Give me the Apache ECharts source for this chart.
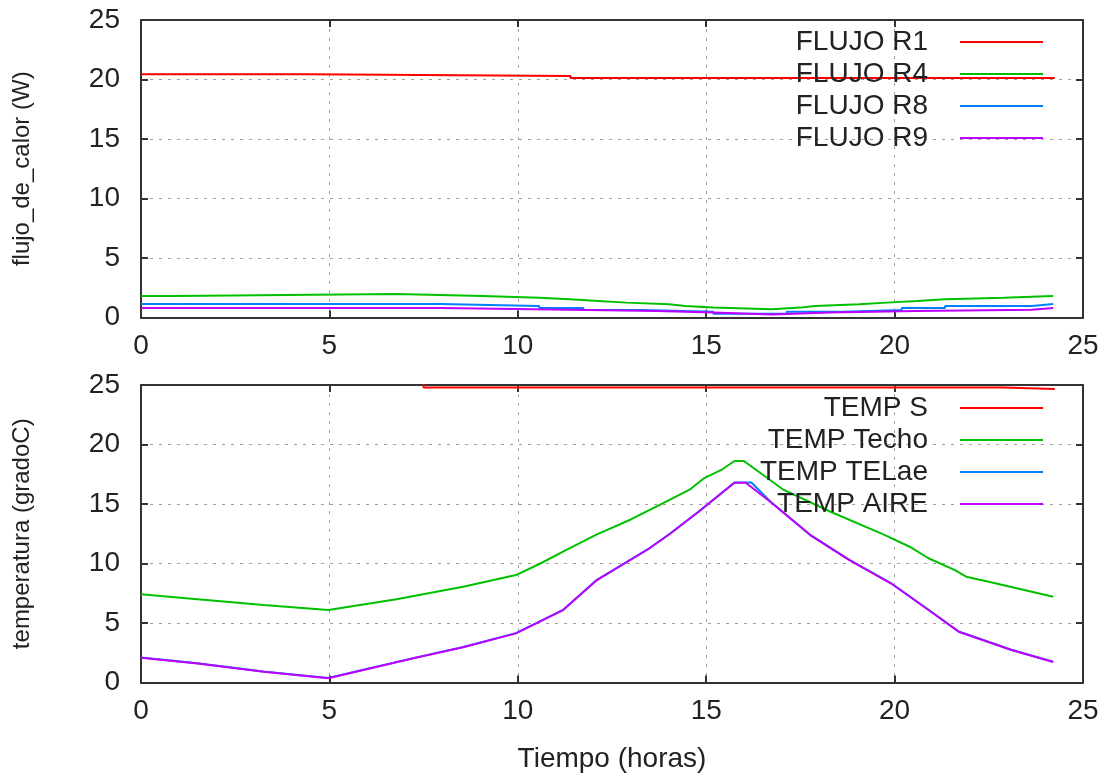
<!DOCTYPE html>
<html><head><meta charset="utf-8">
<script src="https://cdn.jsdelivr.net/npm/echarts@6/dist/echarts.min.js"></script>
<style>html,body{margin:0;padding:0;background:#fff}#c{width:1107px;height:781px}</style>
</head><body><div id="c"></div>
<script>
// ---------- data ----------
const xTicks = [0, 5, 10, 15, 20, 25];
const yTicks = [0, 5, 10, 15, 20, 25];

const flujoNames = ['FLUJO R1', 'FLUJO R4', 'FLUJO R8', 'FLUJO R9'];
const tempNames = ['TEMP S', 'TEMP Techo', 'TEMP TELae', 'TEMP AIRE'];

// top chart (held values, change times in hours)
const tR1 = [0, 4.46, 11.4, 24.25];
const vR1 = [20.45, 20.3, 20.13, 20.13];
const tR4 = [0, 0.88, 6.78, 9.07, 10.57, 11.37, 12.14, 12.89, 14.02, 14.44, 15.19, 16.74, 17.49, 17.89, 19.06, 19.79, 20.59, 21.34, 22.89, 24.21];
const vR4 = [1.81, 1.97, 1.81, 1.67, 1.53, 1.39, 1.25, 1.11, 0.97, 0.83, 0.69, 0.83, 0.97, 1.11, 1.25, 1.39, 1.53, 1.67, 1.81, 1.81];
const tR8 = [0, 7.94, 10.57, 11.74, 13.29, 15.19, 17.14, 18.64, 20.19, 21.34, 23.64, 24.21];
const vR8 = [1.13, 0.97, 0.80, 0.63, 0.49, 0.31, 0.49, 0.63, 0.80, 0.97, 1.13, 1.13];
const tR9 = [0, 7.94, 11.38, 13.69, 15.19, 16.74, 18.28, 20.59, 23.64, 24.21];
const vR9 = [0.80, 0.66, 0.55, 0.41, 0.25, 0.41, 0.55, 0.66, 0.80, 0.80];

// bottom chart
const tS = [0, 7.5, 22.9, 24.25];
const vS = [25.2, 24.8, 24.66, 24.66];
const tTecho = [0, 1.5, 3.25, 4.97, 6.78, 8.55, 9.95, 10.6, 11.2, 12.1, 13.0, 13.7, 14.55, 14.95, 15.4, 15.75, 16.0, 17.06, 18.3, 19.7, 20.4, 20.9, 21.6, 21.9, 22.5, 24.21];
const vTecho = [7.41, 6.99, 6.51, 6.09, 6.99, 8.05, 9.03, 10.0, 11.0, 12.45, 13.7, 14.83, 16.18, 17.18, 17.86, 18.61, 18.61, 16.18, 14.35, 12.45, 11.41, 10.44, 9.45, 8.89, 8.47, 7.21];
const tTELae = [0, 1.5, 3.25, 4.97, 5.9, 7.23, 8.55, 9.95, 11.2, 12.1, 13.5, 14.06, 14.8, 15.75, 16.2, 16.7, 17.76, 18.8, 19.9, 20.9, 21.7, 23.1, 24.21];
const vTELae = [2.1, 1.62, 0.93, 0.37, 1.07, 2.05, 2.98, 4.15, 6.1, 8.63, 11.3, 12.56, 14.37, 16.81, 16.81, 15.21, 12.41, 10.31, 8.36, 6.11, 4.29, 2.75, 1.74];
const tAire = [0, 1.5, 3.25, 4.97, 5.9, 7.23, 8.55, 9.95, 11.2, 12.1, 13.5, 14.06, 14.8, 15.75, 16.05, 16.7, 17.76, 18.8, 19.9, 20.9, 21.7, 23.1, 24.21];
const vAire = [2.08, 1.6, 0.91, 0.35, 1.05, 2.03, 2.96, 4.13, 6.09, 8.61, 11.28, 12.54, 14.35, 16.79, 16.79, 15.19, 12.39, 10.29, 8.34, 6.09, 4.27, 2.73, 1.72];

const colors = ['#ff0000', '#00c000', '#0080ff', '#c000ff'];

// ---------- chart ----------
const FONT = 'Liberation Sans';
const FS = 28;
const pairs = (t, v) => t.map((x, i) => [x, v[i]]);
const G1 = {left: 141, top: 20, width: 942, height: 297.5};
const G2 = {left: 141, top: 385, width: 942, height: 297.5};

const grid = (g) => Object.assign({containLabel: false, show: false}, g);
const gridLine = {show: true, lineStyle: {color: '#a0a0a0', type: [3, 6], width: 1}};
const axisLn = {show: true, onZero: false, lineStyle: {color: '#333', width: 2}};
const tick = {show: true, inside: true, length: 7, lineStyle: {color: '#333', width: 2}};
const lbl = (m) => ({show: true, color: '#222', fontFamily: FONT, fontSize: FS, margin: m,
  formatter: (v) => String(v)});

function xAxes(gi, withName) {
  const base = {type: 'value', gridIndex: gi, min: xTicks[0], max: xTicks[xTicks.length - 1],
    interval: xTicks[1] - xTicks[0]};
  const main = Object.assign({}, base, {position: 'bottom', axisLine: axisLn, axisTick: tick,
    axisLabel: lbl(15), splitLine: gridLine});
  if (withName) Object.assign(main, {name: 'Tiempo (horas)', nameLocation: 'middle', nameGap: 63,
    nameTextStyle: {fontFamily: FONT, fontSize: FS, color: '#222'}});
  const top = Object.assign({}, base, {position: 'top', axisLine: axisLn, axisTick: tick,
    axisLabel: {show: false}, splitLine: {show: false}});
  return [main, top];
}
function yAxes(gi, name) {
  const base = {type: 'value', gridIndex: gi, min: yTicks[0], max: yTicks[yTicks.length - 1],
    interval: yTicks[1] - yTicks[0]};
  const main = Object.assign({}, base, {position: 'left', axisLine: axisLn, axisTick: tick,
    axisLabel: lbl(21), splitLine: gridLine, name: name, nameLocation: 'middle', nameGap: 107,
    nameTextStyle: {fontFamily: FONT, fontSize: 24, color: '#222'}});
  const right = Object.assign({}, base, {position: 'right', axisLine: axisLn, axisTick: tick,
    axisLabel: {show: false}, splitLine: {show: false}});
  return [main, right];
}

const xa = xAxes(0, false).concat(xAxes(1, true));
const ya = yAxes(0, 'flujo_de_calor (W)').concat(yAxes(1, 'temperatura (gradoC)'));

function ser(name, data, xi, yi, color, step, z) {
  return {name, type: 'line', xAxisIndex: xi, yAxisIndex: yi, data, step: step || false,
    showSymbol: false, symbol: 'none', clip: true, z: z || 2, lineStyle: {color, width: 2},
    itemStyle: {color}, emphasis: {disabled: true}, animation: false};
}

const series = [
  ser(flujoNames[0], pairs(tR1, vR1), 0, 0, colors[0], 'end'),
  ser(flujoNames[1], pairs(tR4, vR4), 0, 0, colors[1], 'end'),
  ser(flujoNames[2], pairs(tR8, vR8), 0, 0, colors[2], 'end'),
  ser(flujoNames[3], pairs(tR9, vR9), 0, 0, colors[3], 'end'),
  ser(tempNames[0], pairs(tS, vS), 2, 2, colors[0], 'end'),
  ser(tempNames[1], pairs(tTecho, vTecho), 2, 2, colors[1]),
  ser(tempNames[2], pairs(tTELae, vTELae), 2, 2, colors[2]),
  ser(tempNames[3], pairs(tAire, vAire), 2, 2, colors[3]),
];

function legend(names, top) {
  return {data: names, orient: 'vertical', align: 'right', right: 64, top: top, padding: 0,
    icon: 'rect', itemWidth: 83, itemHeight: 2, itemGap: 4, selectedMode: false,
    textStyle: {fontFamily: FONT, fontSize: FS, lineHeight: 28, color: '#222', padding: [0, 27, 0, 0]}};
}

const chart = echarts.init(document.getElementById('c'));
chart.setOption({
  animation: false,
  backgroundColor: '#fff',
  grid: [grid(G1), grid(G2)],
  xAxis: xa,
  yAxis: ya,
  legend: [legend(flujoNames, 28), legend(tempNames, 394)],
  series: series
});
</script></body></html>
